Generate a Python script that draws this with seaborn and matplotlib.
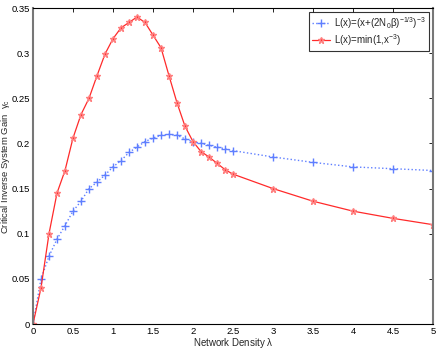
import numpy as np
import pandas as pd
import seaborn as sns
import matplotlib
matplotlib.use('Agg')
import matplotlib.pyplot as plt
from matplotlib.ticker import FormatStrFormatter

# %% data
density = [0, 0.1, 0.2, 0.3, 0.4, 0.5, 0.6, 0.7, 0.8, 0.9,
           1.0, 1.1, 1.2, 1.3, 1.4, 1.5, 1.6, 1.7, 1.8, 1.9,
           2.0, 2.1, 2.2, 2.3, 2.4, 2.5, 3.0, 3.5, 4.0, 4.5, 5.0]

gain_blue = [0, 0.050, 0.075, 0.094, 0.109, 0.125, 0.136, 0.150, 0.157, 0.165,
             0.174, 0.181, 0.190, 0.196, 0.202, 0.206, 0.209, 0.210, 0.209, 0.205,
             0.202, 0.200, 0.198, 0.196, 0.194, 0.192, 0.185, 0.179, 0.174, 0.172, 0.170]

gain_red = [0, 0.040, 0.100, 0.145, 0.170, 0.206, 0.232, 0.250, 0.275, 0.299,
            0.316, 0.328, 0.334, 0.340, 0.334, 0.320, 0.306, 0.275, 0.245, 0.219,
            0.202, 0.191, 0.185, 0.178, 0.171, 0.166, 0.150, 0.136, 0.125, 0.117, 0.110]

label_blue = r'L(x)=(x+(2N$_0$$\beta$)$^{-1/3}$)$^{-3}$'
label_red = r'L(x)=min(1,x$^{-3}$)'

# %% plot
sns.set_style('white')
plt.rcParams['font.family'] = ['Liberation Sans', 'DejaVu Sans']
plt.rcParams['mathtext.default'] = 'regular'

fig = plt.figure(figsize=(4.43, 3.49), dpi=100)
ax = fig.add_axes([33/443, 25/349, 400/443, 316/349])

blue = '#5f7fff'
red = '#ff2a2a'
sns.lineplot(x=density, y=gain_blue, ax=ax, color=blue, linestyle=':', lw=1,
             marker='+', markersize=6, markeredgewidth=1, markeredgecolor=blue,
             label=label_blue)
sns.lineplot(x=density, y=gain_red, ax=ax, color=red, linestyle='-', lw=0.9,
             marker='*', markersize=4.5, markeredgewidth=1, markeredgecolor='#ff8080',
             markerfacecolor=red, label=label_red)

ax.set_xlim(0, 5)
ax.set_ylim(0, 0.35)
ax.set_xticks(np.arange(0, 5.01, 0.5))
ax.set_yticks(np.arange(0, 0.351, 0.05))
ax.xaxis.set_major_formatter(FormatStrFormatter('%g'))
ax.yaxis.set_major_formatter(FormatStrFormatter('%g'))
ax.tick_params(direction='in', length=3, width=0.6, labelsize=6.8, pad=2,
               top=True, right=True, colors='black')

for side in ['top', 'bottom']:
    ax.spines[side].set_color('black')
    ax.spines[side].set_linewidth(0.8)
for side in ['left', 'right']:
    ax.spines[side].set_color('#777777')
    ax.spines[side].set_linewidth(1.5)

ax.set_xlabel(r'Network Density $\lambda$', fontsize=7)
ax.set_ylabel(r'Critical Inverse System Gain  $\gamma_c$', fontsize=6.8)
ax.xaxis.set_label_coords(0.5, -0.038)
ax.yaxis.set_label_coords(-0.052, 0.5)

leg = ax.legend(loc='upper right', fontsize=7, frameon=True, fancybox=False,
                edgecolor='black', borderaxespad=0.4, handlelength=1.8,
                handletextpad=0.5, borderpad=0.3, labelspacing=0.15)
leg.get_frame().set_linewidth(0.8)

fig.savefig('out.png', dpi=100)
